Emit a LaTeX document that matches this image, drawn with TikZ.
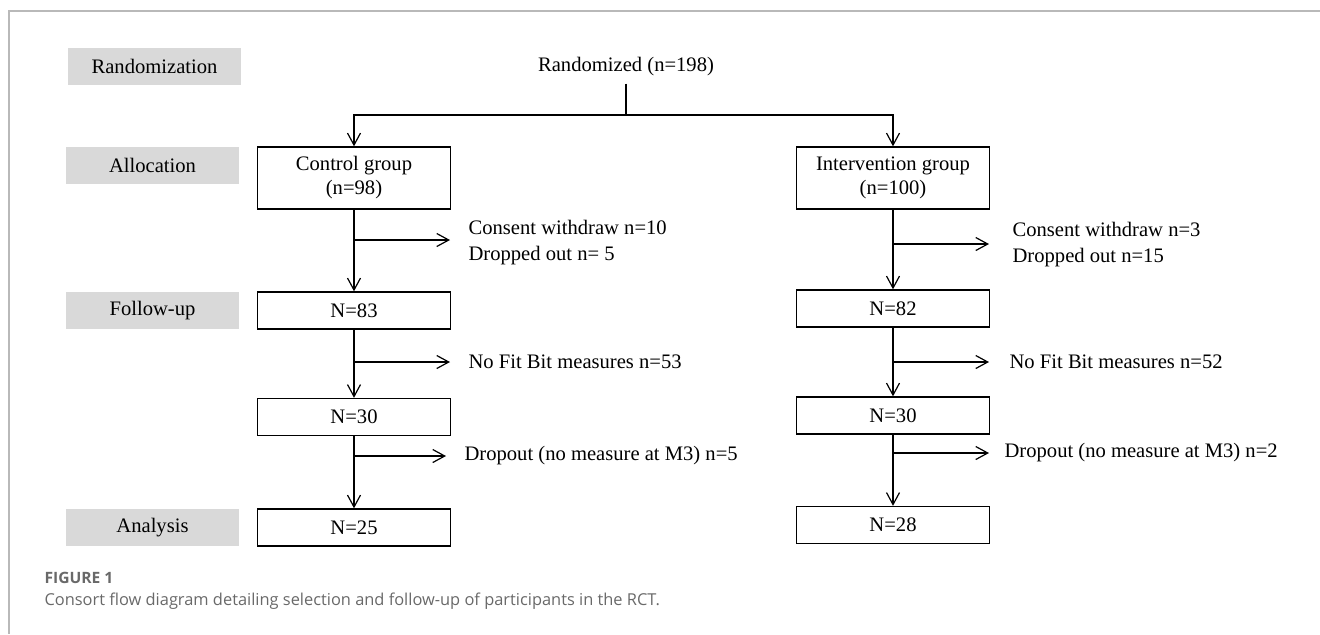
\documentclass[tikz,border=0pt]{standalone}
\usepackage{fontspec}
\setmainfont{Liberation Serif}
\newfontfamily\captionfont{Open Sans}
\usetikzlibrary{arrows.meta}
\definecolor{phaseGray}{RGB}{217, 217, 217}
\definecolor{frameGray}{RGB}{185, 185, 185}
\definecolor{captionGray}{RGB}{105, 105, 105}

\begin{document}
\begin{tikzpicture}[x=0.5pt, y=-0.5pt, line width=0.6pt,
        font=\fontsize{10.3}{12}\selectfont,
        phase/.style={fill=phaseGray, minimum width=86.5pt, minimum height=18.5pt, inner sep=0pt},
        box/.style={draw, line width=0.7pt, minimum width=96.5pt, minimum height=18.5pt, inner sep=0pt, align=center},
        note/.style={anchor=west, inner xsep=9pt, inner ysep=0pt, align=left},
        arr/.style={-{Straight Barb[length=6pt, width=6.5pt]}}]
        \useasboundingbox (0, 0) rectangle (1320, 634);
        \draw[frameGray, line width=1pt] (1320, 11) -- (9, 11) -- (9, 634);

        \node[phase] (randPhase) at (154.5, 66.5) {Randomization};
        \node[phase] (allocPhase) at (152.5, 165.5) {Allocation};
        \node[phase] (followPhase) at (152.5, 310.5) {Follow-up};
        \node[phase] (analysisPhase) at (152.5, 527.5) {Analysis};

        \node (rand) at (626, 67) {Randomized (n=198)};
        \coordinate (split) at (626, 115);

        \node[box, minimum height=31pt] (ctrl) at (354, 178) {Control group\\(n=98)};
        \node[box] (ctrlFollow) at (354, 310.5) {N=83};
        \node[box] (ctrlFit) at (354, 417) {N=30};
        \node[box] (ctrlAnalysis) at (354, 527.5) {N=25};

        \node[box, minimum height=31pt] (intv) at (893, 178) {Intervention group\\(n=100)};
        \node[box] (intvFollow) at (893, 308.5) {N=82};
        \node[box] (intvFit) at (893, 415.5) {N=30};
        \node[box] (intvAnalysis) at (893, 525) {N=28};

        \draw (rand.south) -- (split);
        \draw[arr] (split) -| (ctrl.north);
        \draw[arr] (split) -| (intv.north);

        \draw[arr] (ctrl) -- (ctrlFollow);
        \draw[arr] (ctrlFollow) -- (ctrlFit);
        \draw[arr] (ctrlFit) -- (ctrlAnalysis);
        \draw[arr] (intv) -- (intvFollow);
        \draw[arr] (intvFollow) -- (intvFit);
        \draw[arr] (intvFit) -- (intvAnalysis);

        \coordinate (ctrlOut1) at (354, 240);
        \coordinate (ctrlOut2) at (354, 362);
        \coordinate (ctrlOut3) at (354, 456);
        \coordinate (intvOut1) at (893, 244);
        \coordinate (intvOut2) at (893, 362);
        \coordinate (intvOut3) at (893, 453);

        \node[note] (ctrlLost1) at (450, 243) {Consent withdraw n=10\\[1pt]Dropped out n= 5};
        \node[note] (ctrlLost2) at (450, 362) {No Fit Bit measures n=53};
        \node[note] (ctrlLost3) at (446, 456) {Dropout (no measure at M3) n=5};
        \node[note, inner xsep=11.5pt] (intvLost1) at (989, 245) {Consent withdraw n=3\\[1pt]Dropped out n=15};
        \node[note, inner xsep=10pt] (intvLost2) at (989, 362) {No Fit Bit measures n=52};
        \node[note, inner xsep=7.5pt] (intvLost3) at (989, 453) {Dropout (no measure at M3) n=2};

        \draw[arr] (ctrlOut1) -- (ctrlOut1 -| ctrlLost1.west);
        \draw[arr] (ctrlOut2) -- (ctrlOut2 -| ctrlLost2.west);
        \draw[arr] (ctrlOut3) -- (ctrlOut3 -| ctrlLost3.west);
        \draw[arr] (intvOut1) -- (intvOut1 -| intvLost1.west);
        \draw[arr] (intvOut2) -- (intvOut2 -| intvLost2.west);
        \draw[arr] (intvOut3) -- (intvOut3 -| intvLost3.west);

        \node[anchor=west, inner sep=0pt, text=captionGray, font=\captionfont\fontsize{7.8}{9}\selectfont\bfseries] (figNum) at (44, 578) {FIGURE 1};
        \node[anchor=west, inner sep=0pt, text=captionGray, font=\captionfont\fontsize{8.2}{10}\selectfont] (figText) at (44, 601) {Consort flow diagram detailing selection and follow-up of participants in the RCT.};
    \end{tikzpicture}
\end{document}
